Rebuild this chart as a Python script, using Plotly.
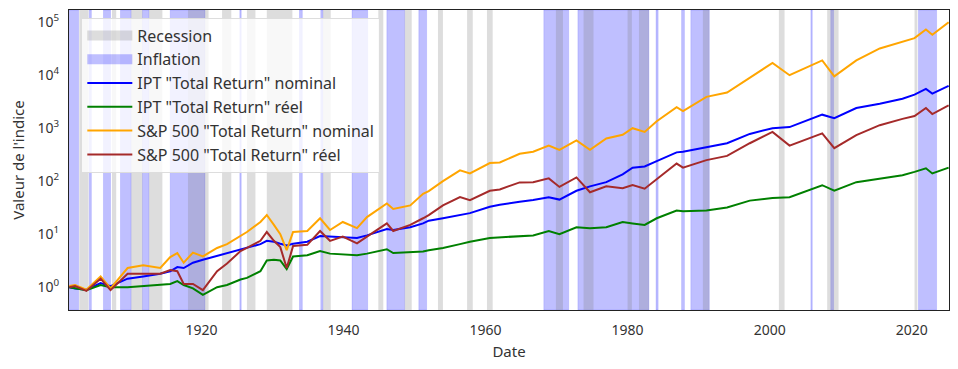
import plotly.graph_objects as go

# ---------------- data ----------------
years = [1901.4, 1902.2, 1903.8, 1905.8, 1907.2, 1909.6, 1911.8, 1914.2, 1915.6, 1916.6,
         1917.5, 1918.8, 1920.2, 1922.2, 1923.6, 1925.5, 1926.4, 1928.3, 1929.2, 1930.2,
         1931.1, 1932.0, 1932.9, 1934.9, 1936.7, 1938.1, 1939.9, 1941.9, 1943.3, 1946.1,
         1947.0, 1949.4, 1951.2, 1952.0, 1954.0, 1956.4, 1957.8, 1960.6, 1962.0, 1964.8,
         1966.7, 1968.9, 1970.4, 1972.8, 1974.7, 1977.0, 1979.3, 1980.7, 1982.4, 1984.1,
         1986.9, 1987.8, 1991.1, 1994.0, 1997.2, 2000.4, 2002.8, 2007.4, 2009.1, 2012.2,
         2015.5, 2018.7, 2020.4, 2022.0, 2022.9, 2025.2]

sp_nominal = [1.05, 1.1, 0.9, 1.6, 0.95, 2.3, 2.6, 2.3, 3.7, 4.4,
              2.9, 4.5, 3.8, 5.5, 6.5, 9.5, 11, 17, 23, 15,
              10, 5, 11, 11.5, 20, 12, 17, 13, 21, 38,
              30, 35, 58, 65, 100, 160, 140, 220, 225, 330,
              360, 470, 390, 590, 390, 640, 750, 1000, 850, 1350,
              2500, 2100, 3900, 4700, 9000, 17000, 10000, 19000, 9500, 19000,
              32000, 42000, 50000, 73000, 58000, 100000]

sp_real = [1.0, 1.05, 0.85, 1.45, 0.88, 1.8, 1.8, 1.8, 2.1, 2.0,
           1.15, 1.15, 0.88, 2.0, 2.8, 4.8, 5.5, 7.5, 11, 7.5,
           5.7, 2.3, 6.0, 6.3, 11.5, 7.5, 9, 6.7, 9, 16,
           11.5, 15, 20, 23, 35, 50, 44, 66, 70, 95,
           96, 113, 78, 118, 62, 80, 74, 85, 72, 110,
           215, 180, 250, 300, 520, 850, 470, 800, 420, 740,
           1140, 1500, 1700, 2400, 1850, 2700]

ipt_nominal = [1.0, 0.95, 0.9, 1.2, 1.05, 1.45, 1.6, 1.8, 2.0, 2.4,
               2.3, 2.9, 3.3, 3.9, 4.3, 5.0, 5.4, 6.5, 7.5, 7.2,
               6.6, 6.1, 6.6, 7.2, 9.2, 9.0, 8.8, 8.5, 9.5, 12.5,
               12, 13.5, 16, 18, 20, 23, 25, 33, 36, 41,
               44, 50, 45, 66, 80, 96, 135, 180, 190, 240,
               350, 360, 440, 520, 780, 1000, 1050, 1800, 1550, 2400,
               2900, 3600, 4300, 5500, 4500, 6300]

ipt_real = [1.0, 0.95, 0.88, 1.1, 1.0, 1.0, 1.05, 1.1, 1.15, 1.3,
            1.1, 0.95, 0.72, 1.0, 1.1, 1.4, 1.5, 2.0, 3.2, 3.3,
            3.2, 2.2, 3.8, 4.0, 4.8, 4.3, 4.2, 4.0, 4.3, 5.2,
            4.4, 4.6, 4.7, 5.0, 5.5, 6.5, 7.2, 8.5, 8.7, 9.2,
            9.5, 11.5, 10, 13.5, 13, 13.5, 17, 16, 15, 20,
            28, 27, 28, 32, 43, 48, 50, 84, 66, 96,
            113, 130, 150, 175, 140, 180]

recessions = [(1902.8, 1904.1), (1907.4, 1908.0), (1910.1, 1911.7), (1912.6, 1914.5),
              (1918.1, 1921.0), (1922.9, 1924.2), (1926.4, 1927.6), (1929.2, 1932.8),
              (1937.1, 1938.2), (1944.9, 1945.6), (1948.6, 1949.6), (1953.3, 1954.0),
              (1957.4, 1958.2), (1960.2, 1961.0), (1969.9, 1970.9), (1973.8, 1975.2),
              (1980.0, 1980.6), (1981.6, 1983.0), (1990.6, 1991.5), (2001.3, 2002.1),
              (2008.1, 2009.7), (2020.4, 2020.8)]

inflations = [(1901.0, 1902.7), (1904.2, 1904.5), (1906.2, 1907.2), (1908.6, 1910.1),
              (1911.7, 1912.6), (1915.6, 1920.5), (1925.4, 1925.6), (1933.8, 1934.2),
              (1936.8, 1937.1), (1941.2, 1943.4), (1946.1, 1948.6), (1950.6, 1951.7),
              (1968.2, 1971.7), (1973.0, 1983.0), (1984.0, 1984.3), (1987.6, 1988.0),
              (1988.9, 1991.5), (2005.8, 2006.0), (2008.6, 2009.0), (2020.95, 2023.5)]

x_ticks = [1920, 1940, 1960, 1980, 2000, 2020]
y_ticks = [1, 10, 100, 1000, 10000, 100000]
y_ticktext = ["10<sup>%d</sup>" % i for i in range(6)]

# ---------------- figure ----------------
FONT = "Noto Sans"
REC_FILL = "rgba(128,128,128,0.27)"
INF_FILL = "rgba(0,0,255,0.25)"
fig = go.Figure()

shapes = []
for a, b in inflations:
    shapes.append(dict(type="rect", xref="x", yref="paper", x0=a, x1=b, y0=0, y1=1,
                       fillcolor=INF_FILL, line=dict(color="rgba(0,0,255,0.12)", width=1),
                       layer="below"))
for a, b in recessions:
    shapes.append(dict(type="rect", xref="x", yref="paper", x0=a, x1=b, y0=0, y1=1,
                       fillcolor=REC_FILL, line=dict(width=0), layer="below"))
fig.update_layout(shapes=shapes)

# legend entries for the shaded spans (thick line icon = patch)
for name, col in [("Recession", REC_FILL), ("Inflation", INF_FILL)]:
    fig.add_trace(go.Scatter(x=[None], y=[None], mode="lines", name=name,
                             line=dict(color=col, width=12)))

series = [("IPT \"Total Return\" nominal", ipt_nominal, "blue"),
          ("IPT \"Total Return\" réel", ipt_real, "green"),
          ("S&P 500 \"Total Return\" nominal", sp_nominal, "orange"),
          ("S&P 500 \"Total Return\" réel", sp_real, "brown")]
for name, vals, col in series:
    fig.add_trace(go.Scatter(x=years, y=vals, mode="lines", name=name,
                             line=dict(color=col, width=2)))

# the page body adds an 8px offset: figure is 950x361 placed at (8, 8)
fig.update_layout(
    width=950, height=361,
    margin=dict(l=61, r=9, t=2, b=59, autoexpand=False),
    paper_bgcolor="white", plot_bgcolor="white",
    font=dict(family=FONT, size=14, color="#333"),
    showlegend=True,
    legend=dict(x=0.014, y=0.975, xanchor="left", yanchor="top",
                bgcolor="rgba(255,255,255,0.8)", bordercolor="#dddddd", borderwidth=1,
                font=dict(family=FONT, size=16, color="#333"), itemwidth=45,
                tracegroupgap=0, traceorder="normal"),
)
fig.update_xaxes(range=[1901.35, 2025.25], tickvals=x_ticks, ticktext=[str(t) for t in x_ticks],
                 showgrid=False, zeroline=False, showline=True, mirror=True, automargin=False,
                 linecolor="#222", linewidth=1.2, ticks="", ticklabelstandoff=7,
                 title=dict(text="Date", font=dict(size=15, color="#333"), standoff=8))
fig.update_yaxes(type="log", range=[-0.43, 5.23], tickvals=y_ticks, ticktext=y_ticktext,
                 showgrid=False, zeroline=False, showline=True, mirror=True, automargin=False,
                 linecolor="#222", linewidth=1.2, ticks="", ticklabelstandoff=6,
                 title=dict(text="Valeur de l'indice", font=dict(size=15, color="#333"), standoff=10))

fig.write_html("out.html")
